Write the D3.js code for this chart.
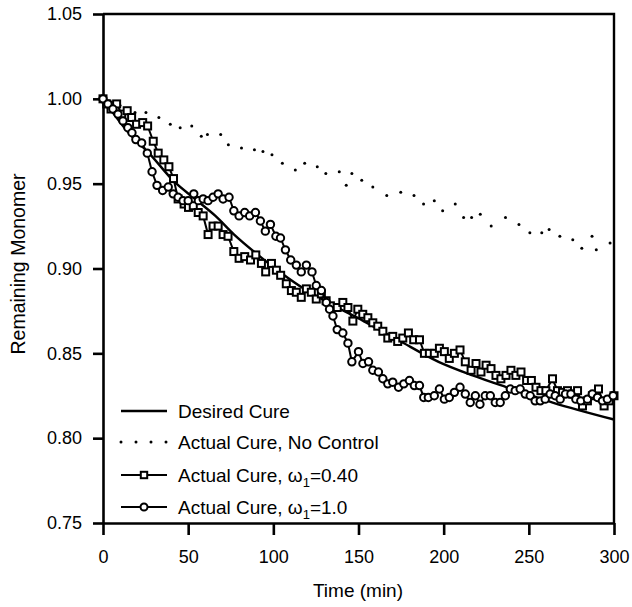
<!DOCTYPE html>
<html>
<head>
<meta charset="utf-8">
<script src="https://cdn.jsdelivr.net/npm/d3@7"></script>
<style>
  body { margin: 0; background: #fff; }
  svg { display: block; font-family: "Liberation Sans", Arial, sans-serif; }
</style>
</head>
<body>
<svg id="chart"></svg>
<script>
'use strict';

// tick values
var timeTicks = [0, 50, 100, 150, 200, 250, 300];
var monoTicks = [0.75, 0.80, 0.85, 0.90, 0.95, 1.00, 1.05];

// Desired cure (solid line)
var desiredT = [0, 15, 27, 42, 54, 66, 77, 91, 105, 118, 132, 153, 173, 197, 217, 237, 264, 300];
var desiredV = [1.000, 0.980, 0.968, 0.951, 0.941, 0.931, 0.920, 0.908, 0.897, 0.888, 0.880, 0.869, 0.858, 0.845, 0.837, 0.830, 0.821, 0.811];

// Actual cure, no control (dots)
var noCtrlT = [0, 5, 10, 14, 18.8, 25.2, 32.8, 39.5, 45.3, 52.1, 57.7, 61.3, 69.1, 73.6, 81.3, 88.9, 93.9, 99.2,
  105.3, 112.9, 118.4, 125.8, 130.8, 138.7, 142.8, 146.1, 151.9, 158.4, 166.6, 174.8, 182.6, 188.2, 194.5,
  199.4, 206.8, 211.7, 216.4, 221.5, 227.9, 236.3, 244.2, 250.6, 257.6, 261.9, 268.2, 275.8, 281.1, 287.1,
  289.6, 297.7];
var noCtrlV = [1.000, 0.998, 0.996, 0.994, 0.992, 0.992, 0.989, 0.985, 0.983, 0.984, 0.978, 0.979, 0.979, 0.973,
  0.971, 0.970, 0.969, 0.967, 0.962, 0.958, 0.962, 0.960, 0.956, 0.957, 0.949, 0.956, 0.952, 0.948, 0.943,
  0.945, 0.943, 0.938, 0.940, 0.934, 0.938, 0.930, 0.930, 0.932, 0.925, 0.930, 0.926, 0.921, 0.921, 0.923,
  0.919, 0.917, 0.912, 0.919, 0.911, 0.915];

// Actual cure, w1 = 0.40 (squares)
var sqT = [0, 2.2, 4.7, 8.0, 11, 14.2, 16.8, 19.7, 23.3, 26.2, 29.5, 32.4, 35.7, 38.7, 41.4, 44.1, 47.6, 50.2,
  53, 55.9, 58.8, 61.7, 64.6, 67.6, 70.5, 73.4, 76.8, 79.9, 83.2, 86.6, 89.7, 93, 95.5, 98.9, 101.8, 104.3,
  107.6, 110.6, 113.5, 116.4, 119.4, 122.3, 125.2, 128.2, 131, 133.5, 137.5, 140.8, 143.8, 146.7, 149.6,
  152.5, 155.5, 158.4, 161.3, 164.3, 167.2, 170.1, 173, 176, 179.3, 182.4, 185.8, 188.7, 191.6, 194.5, 197.5,
  200.4, 203.3, 206.3, 209.6, 212.7, 216.1, 219, 221.9, 224.9, 227.8, 230.7, 233.6, 236.6, 239.5, 242.4,
  245.4, 248.7, 251.5, 254.2, 257.1, 260, 263.9, 266.8, 269.8, 272.7, 275.6, 278.6, 281.5, 284.4, 287.3,
  290.9, 294.2, 297.1, 300];
var sqV = [1.000, 0.997, 0.994, 0.997, 0.991, 0.993, 0.989, 0.985, 0.986, 0.984, 0.975, 0.968, 0.964, 0.960,
  0.953, 0.941, 0.938, 0.936, 0.937, 0.933, 0.931, 0.920, 0.925, 0.925, 0.920, 0.919, 0.910, 0.906, 0.907,
  0.905, 0.908, 0.903, 0.898, 0.903, 0.899, 0.896, 0.891, 0.887, 0.886, 0.883, 0.888, 0.886, 0.882, 0.885,
  0.881, 0.878, 0.877, 0.880, 0.877, 0.869, 0.876, 0.873, 0.871, 0.868, 0.866, 0.863, 0.859, 0.860, 0.857,
  0.859, 0.862, 0.858, 0.858, 0.850, 0.850, 0.850, 0.853, 0.851, 0.847, 0.850, 0.852, 0.845, 0.840, 0.844,
  0.839, 0.843, 0.841, 0.837, 0.835, 0.837, 0.840, 0.837, 0.839, 0.834, 0.834, 0.830, 0.828, 0.828, 0.835,
  0.828, 0.827, 0.828, 0.826, 0.828, 0.819, 0.822, 0.825, 0.829, 0.819, 0.822, 0.825];

// Actual cure, w1 = 1.0 (circles)
var ciT = [0, 2.9, 5.8, 8.8, 11.7, 14.6, 17, 19.3, 22.7, 26, 28.8, 31.7, 35, 38.3, 41.2, 44.1, 47, 50, 53.3,
  56, 58.8, 61.7, 64.6, 67.6, 70.5, 74, 76.8, 79.9, 83.2, 86.1, 89.5, 92.4, 95.3, 98.3, 101.5, 104.2, 107.1,
  110.2, 113.5, 116.4, 119.4, 122.7, 125.2, 128.2, 131.1, 133, 135, 137.5, 140.8, 143.8, 146.1, 150, 152.6,
  155.9, 158.4, 161.7, 164.3, 167.2, 170.1, 173.5, 176.6, 179.9, 182.8, 185.8, 188.3, 191, 194.5, 197.5,
  200.4, 203.3, 206.3, 209.6, 212.7, 215.6, 218.6, 221.3, 224.4, 227.4, 230.3, 233.2, 236.2, 239.1, 242,
  244.9, 247.9, 250.8, 253.7, 256.7, 259.6, 262.5, 265.5, 268.4, 271.5, 274.7, 277.6, 280.5, 284.4, 287.3,
  290.3, 293.2, 296.1, 299.5];
var ciV = [1.000, 0.997, 0.994, 0.991, 0.987, 0.983, 0.980, 0.976, 0.974, 0.968, 0.957, 0.949, 0.946, 0.948,
  0.944, 0.942, 0.940, 0.940, 0.944, 0.940, 0.941, 0.940, 0.942, 0.944, 0.941, 0.942, 0.934, 0.931, 0.933,
  0.931, 0.933, 0.928, 0.922, 0.926, 0.919, 0.918, 0.911, 0.905, 0.902, 0.898, 0.902, 0.898, 0.890, 0.887,
  0.880, 0.876, 0.872, 0.864, 0.862, 0.856, 0.845, 0.851, 0.844, 0.845, 0.840, 0.839, 0.835, 0.832, 0.833,
  0.830, 0.832, 0.834, 0.831, 0.831, 0.824, 0.824, 0.825, 0.829, 0.823, 0.824, 0.827, 0.830, 0.826, 0.821,
  0.825, 0.820, 0.825, 0.825, 0.821, 0.821, 0.825, 0.829, 0.828, 0.829, 0.826, 0.825, 0.822, 0.822, 0.823,
  0.826, 0.825, 0.823, 0.826, 0.826, 0.823, 0.822, 0.823, 0.826, 0.824, 0.822, 0.823, 0.825];

var legendLabels = ['Desired Cure', 'Actual Cure, No Control', 'Actual Cure, ', 'Actual Cure, '];

var W = 632, H = 607;
var margin = { left: 103, right: 18, top: 14, bottom: 84 };

var svg = d3.select('#chart').attr('width', W).attr('height', H);

var x = d3.scaleLinear().domain([0, 300]).range([margin.left, W - margin.right]);
var y = d3.scaleLinear().domain([0.75, 1.05]).range([H - margin.bottom, margin.top]);

function zip(ts, vs) {
    return ts.map(function (t, i) { return { t: t, v: vs[i] }; });
}

var line = d3.line().x(function (d) { return x(d.t); }).y(function (d) { return y(d.v); });

// frame (top and right)
svg.append('path')
    .attr('d', 'M' + x(0) + ',' + y(1.05) + 'H' + x(300) + 'V' + y(0.75))
    .attr('fill', 'none').attr('stroke', '#000').attr('stroke-width', 2.4);

// axes
var yAxis = svg.append('g')
    .attr('transform', 'translate(' + x(0) + ',0)')
    .call(d3.axisLeft(y).tickValues(monoTicks).tickFormat(d3.format('.2f')).tickSize(10).tickSizeOuter(0).tickPadding(11));
var xAxis = svg.append('g')
    .attr('transform', 'translate(0,' + y(0.75) + ')')
    .call(d3.axisBottom(x).tickValues(timeTicks).tickFormat(d3.format('d')).tickSize(12).tickSizeOuter(0).tickPadding(15));

[xAxis, yAxis].forEach(function (g) {
    g.select('.domain').attr('stroke-width', 2.6);
    g.selectAll('.tick line').attr('stroke-width', 2.6);
    g.selectAll('.tick text').attr('font-size', 18).attr('fill', '#000')
        .attr('font-family', '"Liberation Sans", Arial, sans-serif');
});

// axis titles
svg.append('text')
    .attr('transform', 'translate(25,' + 264 + ') rotate(-90)')
    .attr('text-anchor', 'middle')
    .attr('font-size', 19.5)
    .text('Remaining Monomer');
svg.append('text')
    .attr('x', 358).attr('y', 597)
    .attr('text-anchor', 'middle')
    .attr('font-size', 19)
    .text('Time (min)');

var plot = svg.append('g');

// desired cure
plot.append('path')
    .datum(zip(desiredT, desiredV))
    .attr('d', line.curve(d3.curveMonotoneX))
    .attr('fill', 'none').attr('stroke', '#000').attr('stroke-width', 2.4);
line.curve(d3.curveLinear);

// no control dots
plot.selectAll('circle.nc')
    .data(zip(noCtrlT, noCtrlV))
    .join('circle').attr('class', 'nc')
    .attr('cx', function (d) { return x(d.t); })
    .attr('cy', function (d) { return y(d.v); })
    .attr('r', 1.5).attr('fill', '#000');

// squares series
var sqData = zip(sqT, sqV);
plot.append('path').datum(sqData).attr('d', line)
    .attr('fill', 'none').attr('stroke', '#000').attr('stroke-width', 2);
plot.selectAll('rect.sq')
    .data(sqData)
    .join('rect').attr('class', 'sq')
    .attr('x', function (d) { return x(d.t) - 3.5; })
    .attr('y', function (d) { return y(d.v) - 3.5; })
    .attr('width', 7).attr('height', 7)
    .attr('fill', '#fff').attr('stroke', '#000').attr('stroke-width', 2);

// circles series
var ciData = zip(ciT, ciV);
plot.append('path').datum(ciData).attr('d', line)
    .attr('fill', 'none').attr('stroke', '#000').attr('stroke-width', 2);
plot.selectAll('circle.ci')
    .data(ciData)
    .join('circle').attr('class', 'ci')
    .attr('cx', function (d) { return x(d.t); })
    .attr('cy', function (d) { return y(d.v); })
    .attr('r', 3.7)
    .attr('fill', '#fff').attr('stroke', '#000').attr('stroke-width', 2);

// legend
var lg = svg.append('g');
var rowY = [411, 442, 475, 507];
var lx0 = 121, lx1 = 167, lxm = 144, tx = 178;

lg.append('line').attr('x1', lx0).attr('x2', lx1).attr('y1', rowY[0]).attr('y2', rowY[0])
    .attr('stroke', '#000').attr('stroke-width', 2.4);
lg.selectAll('circle.ld').data([0, 1, 2, 3]).join('circle').attr('class', 'ld')
    .attr('cx', function (d) { return lx0 + d * 15; }).attr('cy', rowY[1])
    .attr('r', 1.5).attr('fill', '#000');
[2, 3].forEach(function (i) {
    lg.append('line').attr('x1', lx0).attr('x2', lx1).attr('y1', rowY[i]).attr('y2', rowY[i])
        .attr('stroke', '#000').attr('stroke-width', 2.2);
});
lg.append('rect').attr('x', lxm - 3.2).attr('y', rowY[2] - 3.2).attr('width', 6.4).attr('height', 6.4)
    .attr('fill', '#fff').attr('stroke', '#000').attr('stroke-width', 2);
lg.append('circle').attr('cx', lxm).attr('cy', rowY[3]).attr('r', 3.5)
    .attr('fill', '#fff').attr('stroke', '#000').attr('stroke-width', 2);

var texts = lg.selectAll('text').data(legendLabels).join('text')
    .attr('x', tx).attr('y', function (d, i) { return rowY[i] + 6.5; })
    .attr('font-size', 19)
    .text(function (d) { return d; });

[['0.40', 2], ['1.0', 3]].forEach(function (p) {
    var t = texts.filter(function (d, i) { return i === p[1]; });
    t.append('tspan').text('\u03c9');
    t.append('tspan').attr('font-size', 13).attr('dy', 5).text('1');
    t.append('tspan').attr('dy', -5).text('=' + p[0]);
});
</script>
</body>
</html>
